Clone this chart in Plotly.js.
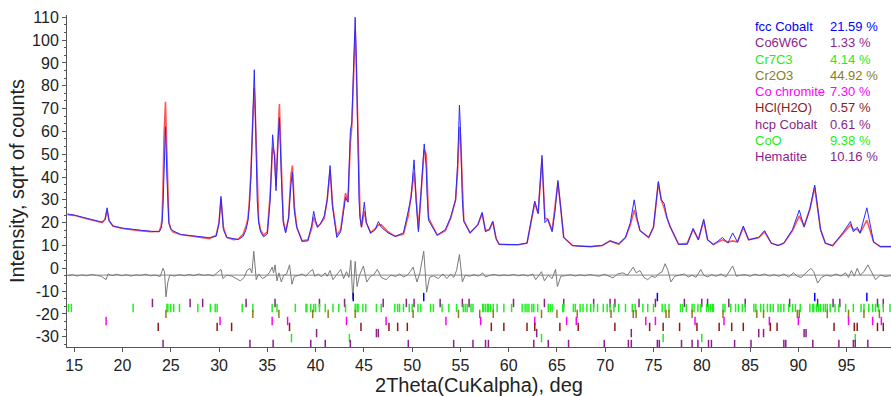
<!DOCTYPE html>
<html>
<head>
<meta charset="utf-8">
<script src="https://cdn.plot.ly/plotly-3.0.1.min.js"></script>
<style>html,body{margin:0;padding:0;background:#fff;}#chart{width:891px;height:396px;}</style>
</head>
<body>
<div id="chart"></div>
<script>
const twoTheta = [14.3,15,16,17,17.9,18.2,18.4,18.6,19,20,21,22,23,23.8,
  24.0,24.1,24.2,24.3,24.45,24.6,24.7,24.8,25.0,25.2,26,27,28,29,29.7,30.0,30.2,30.45,30.8,31.5,32,32.5,
  32.8,33.0,33.15,33.3,33.5,33.65,33.75,33.85,33.95,34.1,34.3,34.6,
  35.0,35.3,35.55,35.75,35.9,36.1,36.25,36.45,36.65,36.9,37.2,37.45,37.6,37.8,38.05,38.6,39.2,39.6,39.8,40.0,40.2,40.5,40.9,41.2,41.5,41.75,42.2,42.6,42.9,43.1,43.35,43.6,43.75,44.0,44.1,
  44.2,44.3,44.4,44.5,44.6,44.75,45.05,45.25,45.7,46.2,46.5,46.8,47.5,48.25,49.1,49.6,49.9,
  50.05,50.2,50.3,50.4,50.65,50.9,51.1,51.25,51.45,51.55,51.7,52.6,53.45,54.0,54.5,54.7,54.9,55.0,55.1,55.2,55.35,56.0,
  56.8,57.25,57.6,58.0,58.35,58.7,59.0,60,61,61.9,62.3,62.7,63.05,63.45,63.75,64.05,64.5,64.8,65.1,65.4,65.7,66.6,67.5,68.5,69.7,70.5,71.4,72.1,72.6,73.0,73.3,73.6,74.5,75.0,75.5,75.8,76.1,76.4,76.75,77.6,78.5,79.1,79.65,80.2,80.6,81.2,82.15,82.7,83.2,83.7,84.3,84.85,85.9,86.5,87.2,87.9,88.5,89.4,90.1,90.6,91.2,91.7,92.3,92.8,93.55,94.6,95.4,95.7,96.1,96.4,97.1,97.8,98.5,99.6];
const observed = [23.8,23.3,22.2,21.2,20.2,21.5,26.5,21,18.5,17.6,17,16.6,16.2,16.0,
  17.5,20,28,45,62,40,27,20,17.5,16.5,14.8,14.3,13.8,13.4,14,20,31.5,17,13.5,12.8,12.6,14,
  17,21,28,40,70,87,70,48,30,20,16,13.8,
  15,30,58.5,48,34,55,66,40,20,15.5,22,37,42,25,18,11.8,12,19,25,21,18,19.5,23,30,45,27,13.5,16,25,31,29,60,64,100,110,
  95,70,45,30,22,18,29,20,15.5,17,20.5,18,15.5,14,15.5,24.5,31,
  40,47.5,40,30,16,30,45,54.5,45,32,21,14.5,17,22.5,30,45,71.5,62,45,30,20.5,15.5,
  19,24.5,16,17,20.5,13,10.5,10.5,10.4,11,20,29.5,24,49.5,20,21.5,16,25,38.5,25,13.5,10,9.6,9.5,10,12,10.8,13.5,20,30,22,16.5,13.5,18,38,30,28.5,22,18,10.5,10.5,17.5,12.5,21.5,12.5,10.3,13.5,11,15.5,11.5,18.5,12.5,13.5,16.5,11,10,11,17,25.5,18,26,36.5,17,11,9.8,15.5,20.5,16,18,15.5,26.5,11.5,9.5,9.5];
const calculated = [23.5,23.2,22.0,21.0,20.0,21.5,25.5,21,18.5,17.4,16.8,16.4,16.0,16.2,
  18.5,22,36,58,73,45,29,20,17.2,16,14.8,14.2,13.6,13.0,14.5,20,30.5,18,13.5,12.5,12.8,15,
  18.5,22,30,42,65,79,68,52,33,21,16.8,14.5,
  16,33,53,50,36,60,72,45,21,16,22,41,45,27,18,12,12.5,17.5,22.5,20,18.2,19.5,22,30,43,28,14.5,17,27,33,29,55,62,92,104,
  92,72,50,33,24,18,25,20,15.5,17.5,19,19,16,14,15,23,31,
  37,42,38,32,17,33,45,52,50,36,22,14.5,16.5,22,30,42,62,58,48,33,21,15.5,
  19,24,16.5,17,20.5,13,10.5,10.3,10.3,11,20,28.5,24,48,22,21.5,16.5,27,37.5,26,13.5,10,9.8,9.5,10,12,10.5,13.5,19,25.5,21,16.5,13.5,18,37.5,30,26.5,22,18,10.5,11,17,12.5,21,12.5,10.5,12.5,11.5,12,11.5,18,12.5,13.5,16,11,10,11,16.5,23,18.5,26,35.5,17,11,10,15,19,17,17,15.5,21,11.5,9.5,9.5];

// ---- difference curve ----
const diffOffset = -3;
const diffTheta = [14.3,14.8,15.3,15.8,16.3,16.8,17.3,17.8,18.3,18.5,18.9,19.4,19.9,20.4,20.9,21.4,21.9,22.4,22.9,23.4,23.9,24.2,24.35,24.5,24.7,24.9,25.4,25.9,26.4,26.9,27.4,27.9,28.4,28.9,29.4,29.9,30.2,30.4,30.8,31.3,31.8,32.2,32.6,32.9,33.2,33.4,33.6,33.85,34.1,34.5,34.9,35.2,35.5,35.65,35.8,36.0,36.2,36.45,36.7,37.0,37.3,37.55,37.8,38.2,38.6,39.0,39.4,39.7,39.9,40.3,40.6,41.0,41.2,41.5,41.8,42.2,42.6,42.9,43.2,43.45,43.65,43.85,44.1,44.3,44.55,44.95,45.3,45.7,46.0,46.4,46.8,47.3,47.8,48.3,48.7,49.1,49.5,49.8,50.1,50.5,50.8,51.2,51.5,51.8,52.2,52.7,53.2,53.6,54.0,54.3,54.6,54.9,55.2,55.5,55.9,56.4,56.9,57.3,57.6,58.1,58.5,59.0,59.5,60.0,60.5,61.0,61.5,62.0,62.5,62.8,63.1,63.4,63.7,64.1,64.5,64.85,65.05,65.4,65.9,66.4,66.9,67.4,67.9,68.4,68.9,69.4,69.9,70.4,70.8,71.3,71.8,72.3,72.6,72.9,73.2,73.6,74.0,74.4,74.8,75.2,75.5,75.9,76.2,76.5,76.8,77.2,77.7,78.2,78.6,79.0,79.4,79.9,80.2,80.6,81.0,81.5,82.0,82.5,83.2,83.6,84.0,84.5,85.0,85.5,86.0,86.5,87.0,87.5,88.0,88.5,89.0,89.5,89.9,90.3,90.8,91.3,91.6,92.0,92.4,92.9,93.4,93.9,94.4,94.9,95.2,95.5,95.8,96.1,96.4,96.8,97.2,97.6,98.0,98.5,99.0,99.6];
const diffValues = [-3.2,-2.8,-3.4,-2.9,-3.3,-2.7,-3.1,-3.5,-5,-2.5,-3.2,-2.6,-3.3,-2.8,-3.4,-2.9,-3.1,-2.6,-3.3,-3.0,-3.6,0,-1.5,-12.5,-6,-3,-3.4,-2.8,-3.3,-2.7,-3.2,-2.5,-3.1,-2.8,-3.4,-1.5,-0.5,-4.5,-3,-3.4,-4.5,-5.5,-4,-1,0,-2,7.5,-5,-2.5,-4.5,-3.5,-2,0.5,-2,1.5,-5.5,-2,-6,-3,-2.5,1.5,-7,-3.5,-3.2,-2.5,-3.5,-1.5,-0.5,-3.5,-2.5,-3.8,-2,-3.5,-1,-5,-3,-0.5,-4.5,-1.5,-4,3.5,-13.5,3,-8,-3,1,-6,-3.5,-3,-0.5,-4,-5,-3,-3.6,-2.5,-3.8,-3,-1.5,0.5,-6,-2,7.5,-10.5,-4,-3.3,-4.5,-2.5,-4.5,-2.5,-4,-1,6,-6,-3,-3.5,-2.8,-3.4,-2,-3.8,-3,-2.7,-3.3,-2.9,-3.2,-2.7,-3.3,-2.8,-3.4,-2.5,-5,-3,-1.5,-5.5,-3,-4.5,-0.5,-8,-3.5,-3.2,-2.8,-3.4,-2.9,-3.3,-2.7,-3.2,-3.5,-2.6,-3.5,-4.2,-2.5,-2,-3,-1.5,0.5,-2,-1,-4,-5,-3.5,-4,-2.5,-1.5,2,-1,-6,-3.5,-3,-2.5,-3.8,-3,-4,-0.5,-3,-3.8,-2.8,-3.5,-2.5,-3.8,1,-3.5,-3,-2.8,-3.5,-2.6,-3.2,-2.5,-3.4,-2.8,-3.5,-2.5,-3.8,-2,-3.5,-4,-2,0,-1.5,-6.5,-4,-3,-3.5,-2.5,-3.4,-2,-4,-1,-3.5,0,-3,-1.5,1.5,-2,-5,-3,-3.6,-3.2];

// ---- phases: names, fractions, colours, tick rows, reflection positions ----
const phaseNames = ["fcc Cobalt","Co6W6C","Cr7C3","Cr2O3","Co chromite","HCl(H2O)","hcp Cobalt","CoO","Hematite"];
const phasePercent = ["21.59 %","1.33 %","4.14 %","44.92 %","7.30 %","0.57 %","0.61 %","9.38 %","10.16 %"];
const phaseColors = ["#0000ff","#8b1f8b","#22ee22","#8b7d1a","#ff00ff","#8b1a1a","#8b1f8b","#22ee22","#8b1f8b"];
const phaseRowY = [-12.6,-15.2,-17.4,-20.0,-23.1,-25.7,-28.4,-30.6,-33.2];
const ticksFccCo = [43.9,51.2,75.4,91.7,97.1];
const ticksCo6W6C = [23.1,27.0,28.3,32.8,35.8,40.4,43.0,47.0,49.4,50.2,52.9,55.2,55.9,60.5,63.7,65.7,68.8,70.5,71.0,73.5,75.2,78.2,80.0,80.6,82.8,84.5,89.1,92.0,93.6,94.3,98.2,98.8];
const ticksCr7C3 = [14.4,14.7,21.1,24.6,24.7,25.0,25.3,25.9,27.8,29.1,29.6,29.8,32.4,33.5,35.5,36.0,37.9,39.0,39.1,39.5,39.8,40.0,40.4,41.0,41.8,42.4,43.1,44.1,44.3,44.4,44.9,45.2,46.3,46.8,48.2,48.5,48.7,49.1,49.7,50.0,50.6,50.9,51.9,52.2,53.1,53.8,54.6,55.3,55.5,55.7,56.1,56.3,57.3,57.4,57.6,57.8,57.9,58.1,58.4,58.8,59.5,60.3,61.4,61.7,61.9,62.1,62.4,62.6,63.0,64.1,64.3,64.5,65.6,65.7,66.7,66.9,67.4,67.7,68.1,68.5,68.8,69.2,69.8,70.2,70.5,70.9,71.4,72.1,72.8,73.1,73.9,74.4,75.0,75.9,76.2,76.6,77.8,78.0,78.4,79.0,79.2,79.6,79.9,80.5,80.7,80.9,81.1,81.2,82.2,82.4,83.0,83.5,83.8,84.2,84.5,85.4,85.6,86.1,86.4,86.8,87.1,87.4,87.9,88.2,88.5,89.0,89.4,89.7,90.2,91.2,91.5,91.6,91.9,92.1,92.3,92.6,92.8,93.0,93.3,93.8,94.2,94.9,95.7,96.5,96.8,97.3,97.7,98.0,98.3,98.8,99.5];
const ticksCr2O3 = [24.5,33.5,36.2,39.7,41.3,44.1,50.1,54.8,57.0,58.4,63.4,65.0,67.1,70.6,72.9,73.2,76.3,76.6,79.0,82.2,85.7,86.4,89.9,90.1,93.0,95.2,96.8,98.4];
const ticksCoChromite = [18.3,30.1,35.5,37.1,43.2,47.3,53.5,57.1,62.7,66.0,67.0,74.2,75.2,79.3,82.3,87.0,90.0,95.2,97.7,98.6];
const ticksHClH2O = [23.7,29.8,31.3,37.3,44.7,47.6,48.5,49.5,58.2,59.5,61.9,62.7,65.3,67.2,71.0,74.6,76.0,77.7,79.5,81.8,83.1,84.3,87.1,87.8,93.7,95.8,96.1,98.2,98.8];
const ticksHcpCo = [40.1,46.3,46.5,62.9,72.7,85.9,86.4,90.6,90.8];
const ticksCoO = [37.5,43.5,63.4,76.0,80.0,95.9];
const ticksHematite = [24.2,33.2,35.6,39.5,41.0,43.6,49.6,54.3,56.3,57.6,57.9,62.6,64.1,66.2,69.9,72.4,72.7,75.4,75.6,77.9,79.0,79.6,80.7,81.0,83.4,85.1,88.5,88.7,91.5,94.2,95.7,95.9,97.2];
const phaseTicks = [ticksFccCo,ticksCo6W6C,ticksCr7C3,ticksCr2O3,ticksCoChromite,ticksHClH2O,ticksHcpCo,ticksCoO,ticksHematite];

// ---- axis ticks ----
const xTickVals = [15,20,25,30,35,40,45,50,55,60,65,70,75,80,85,90,95];
const xTickText = ["15","20","25","30","35","40","45","50","55","60","65","70","75","80","85","90","95"];
const yTickVals = [-30,-20,-10,0,10,20,30,40,50,60,70,80,90,100,110];
const yTickText = ["-30","-20","-10","0","10","20","30","40","50","60","70","80","90","100","110"];

const FONT = "Arial, 'Liberation Sans', sans-serif";
const traces = [];
traces.push({x: diffTheta, y: diffValues, mode: "lines", line: {color: "#7a7a7a", width: 1}, hoverinfo: "skip"});
traces.push({x: twoTheta, y: calculated, mode: "lines", line: {color: "#ff3a3a", width: 1.6}, opacity: 0.85, hoverinfo: "skip"});
traces.push({x: twoTheta, y: observed, mode: "lines", line: {color: "#2a2aff", width: 1}, hoverinfo: "skip"});
phaseTicks.forEach((tk, i) => {
  traces.push({
    x: tk, y: tk.map(() => phaseRowY[i]), mode: "markers", hoverinfo: "skip",
    marker: {symbol: "line-ns", size: 6, color: phaseColors[i], line: {color: phaseColors[i], width: 1.5}}
  });
});

const annotations = [];
const rowTop = 0.965, rowStep = 0.049;
phaseNames.forEach((n, i) => {
  annotations.push({xref: "paper", yref: "paper", x: 0.8325, y: rowTop - i * rowStep, xanchor: "left", yanchor: "middle",
    text: n, showarrow: false, font: {family: FONT, size: 13, color: phaseColors[i]}});
  annotations.push({xref: "paper", yref: "paper", x: 0.9235, y: rowTop - i * rowStep, xanchor: "left", yanchor: "middle",
    text: phasePercent[i], showarrow: false, font: {family: FONT, size: 13, color: phaseColors[i]}});
});

const layout = {
  width: 891, height: 396,
  margin: {l: 67, r: 0, t: 15, b: 49},
  paper_bgcolor: "#fff", plot_bgcolor: "#fff",
  showlegend: false,
  font: {family: FONT, color: "#222"},
  xaxis: {
    range: [14.25, 99.6], showgrid: false, zeroline: false,
    showline: true, linecolor: "#555", linewidth: 1,
    ticks: "outside", ticklen: 4, tickcolor: "#555",
    tickvals: xTickVals, ticktext: xTickText, tickfont: {size: 16, family: FONT, color: "#222"},
    title: {text: "2Theta(CuKalpha), deg", font: {size: 20, family: FONT, color: "#222"}, standoff: 8}
  },
  yaxis: {
    range: [-34.5, 111], showgrid: false, zeroline: false,
    showline: true, linecolor: "#555", linewidth: 1,
    ticks: "outside", ticklen: 4, tickcolor: "#555",
    tickvals: yTickVals, ticktext: yTickText, tickfont: {size: 16, family: FONT, color: "#222"},
    minor: {dtick: 10/3, tick0: 0, ticks: "outside", ticklen: 2, tickcolor: "#555"},
    title: {text: "Intensity, sqrt of counts", font: {size: 20, family: FONT, color: "#222"}, standoff: 2}
  },
  shapes: [{type: "line", xref: "paper", yref: "y", x0: 0, x1: 1, y0: diffOffset, y1: diffOffset,
            line: {color: "#8a8a8a", width: 1}, layer: "below"}],
  annotations: annotations
};

Plotly.newPlot("chart", traces, layout, {displayModeBar: false, staticPlot: true});
</script>
</body>
</html>
